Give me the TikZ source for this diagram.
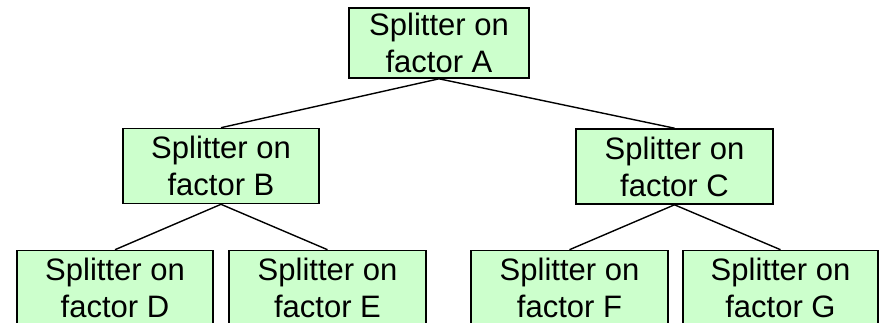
\documentclass[tikz,border=0pt]{standalone}
\usepackage{fontspec}
\setmainfont{Liberation Sans}
\definecolor{boxgreen}{RGB}{204,255,204}
\begin{document}
\begin{tikzpicture}[x=1pt,y=-1pt,
  splitbox/.style={draw=black, fill=boxgreen, line width=1.6pt, inner sep=0pt,
    minimum height=75pt, align=center, font=\fontsize{31}{37}\selectfont},
  link/.style={line width=1.4pt}]
\useasboundingbox (0,0) rectangle (881,322);
\clip (0,0) rectangle (881,322);
\node[splitbox, minimum width=180pt, minimum height=70pt] (A) at (439,43) {Splitter on\\factor A};
\node[splitbox, minimum width=196pt] (B) at (221,166) {Splitter on\\factor B};
\node[splitbox, minimum width=197pt] (C) at (674.5,166.5) {Splitter on\\factor C};
\node[splitbox, minimum width=196pt] (D) at (115,288) {Splitter on\\factor D};
\node[splitbox, minimum width=197pt] (E) at (327.5,288) {Splitter on\\factor E};
\node[splitbox, minimum width=197pt] (F) at (569.5,288) {Splitter on\\factor F};
\node[splitbox, minimum width=195pt] (G) at (780.5,288) {Splitter on\\factor G};
\draw[link] (A.south) -- (B.north);
\draw[link] (A.south) -- (C.north);
\draw[link] (B.south) -- (D.north);
\draw[link] (B.south) -- (E.north);
\draw[link] (C.south) -- (F.north);
\draw[link] (C.south) -- (G.north);
\end{tikzpicture}
\end{document}
